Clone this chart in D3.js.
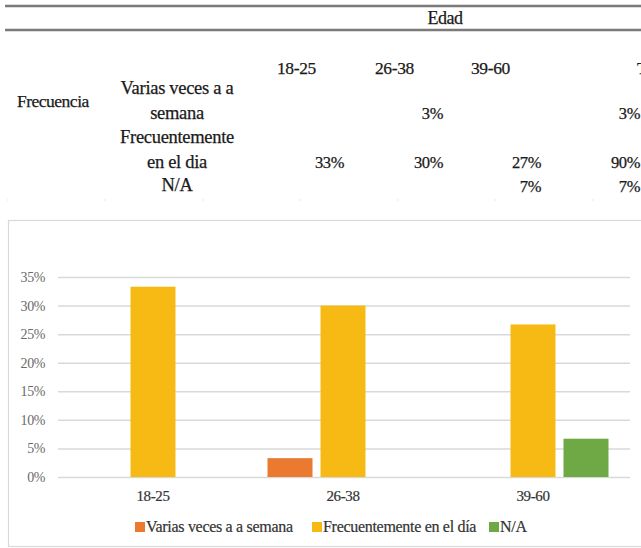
<!DOCTYPE html>
<html>
<head>
<meta charset="utf-8">
<script src="https://cdn.jsdelivr.net/npm/d3@7"></script>
<style>
  html, body { margin: 0; padding: 0; background: #fff; overflow: hidden; }
  svg { display: block; }
</style>
</head>
<body>
<script>
// Age groups and frequency series
const ageGroups = ["18-25", "26-38", "39-60"];
const seriesNames = ["Varias veces a a semana", "Frecuentemente en el día", "N/A"];
const seriesColors = ["#E97A30", "#F7BA14", "#6EA945"];
// Share of respondents per age group (same order as ageGroups)
const variasVeces = [0, 0.033, 0];
const frecuentemente = [0.333, 0.30, 0.267];
const noAplica = [0, 0, 0.067];
const yTicks = [0, 0.05, 0.10, 0.15, 0.20, 0.25, 0.30, 0.35];

// Summary table rows
const tableHeaders = ["18-25", "26-38", "39-60", "Total"];
const tableRowLabels = [["Varias veces a a", "semana"], ["Frecuentemente", "en el dia"], ["N/A"]];
const tableValues = [
  ["", "3%", "", "3%"],
  ["33%", "30%", "27%", "90%"],
  ["", "", "7%", "7%"]
];

const W = 641, H = 548;
const serif = "'Liberation Serif', 'DejaVu Serif', serif";

const svg = d3.select("body").append("svg")
  .attr("width", W).attr("height", H);

// ---------- Table ----------
const tbl = svg.append("g").attr("font-family", serif)
  .attr("fill", "#1a1a1a").attr("stroke", "#1a1a1a").attr("stroke-width", 0.25);

[6, 30].forEach(y => {
  svg.append("line").attr("x1", 5).attr("x2", W).attr("y1", y).attr("y2", y)
    .attr("stroke", "#7a7a7a").attr("stroke-width", 2.6);
});
tbl.append("text").attr("x", 445).attr("y", 24).attr("text-anchor", "middle")
  .attr("font-size", 18).attr("letter-spacing", -0.5).text("Edad");

const colLeft = [277, 375, 471, 637];
const colRight = [344, 443, 541, 640];
tableHeaders.forEach((h, i) => {
  tbl.append("text").attr("x", colLeft[i]).attr("y", 74)
    .attr("font-size", 17.5).attr("letter-spacing", -0.4).text(h);
});

tbl.append("text").attr("x", 17).attr("y", 107)
  .attr("font-size", 17.5).attr("letter-spacing", -0.5).text("Frecuencia");

const labelBase = [[94, 119], [143, 168], [191]];
const valueBase = [119, 168, 192];
tableRowLabels.forEach((lines, r) => {
  lines.forEach((t, k) => {
    tbl.append("text").attr("x", 177).attr("y", labelBase[r][k])
      .attr("text-anchor", "middle").attr("font-size", 18.5)
      .attr("letter-spacing", -0.3).text(t);
  });
  tableValues[r].forEach((v, c) => {
    if (!v) return;
    tbl.append("text").attr("x", colRight[c]).attr("y", valueBase[r])
      .attr("text-anchor", "end").attr("font-size", 16.5)
      .attr("letter-spacing", -0.4).text(v);
  });
});
svg.append("line").attr("x1", 7).attr("x2", W).attr("y1", 200).attr("y2", 200)
  .attr("stroke", "#e0e0e0").attr("stroke-width", 1.2).attr("stroke-dasharray", "1.5,96");

// ---------- Chart ----------
svg.append("rect").attr("x", 8.5).attr("y", 220.5).attr("width", 660).attr("height", 326)
  .attr("fill", "#fff").attr("stroke", "#d9d9d9").attr("stroke-width", 1.2);

const plotTop = 277, plotBottom = 477, plotLeft = 58, plotRight = 630;
const y = d3.scaleLinear().domain([0, 0.35]).range([plotBottom, plotTop]);
const x0 = d3.scaleBand().domain(ageGroups).range([plotLeft, plotRight - 2]).padding(0);
const x1 = d3.scaleBand().domain(seriesNames).range([0, x0.bandwidth()])
  .paddingInner(0.151).paddingOuter(0.368);

const seriesValues = [variasVeces, frecuentemente, noAplica];

// Gridlines and percentage ticks
const yAxis = d3.axisLeft(y).tickValues(yTicks)
  .tickFormat(d3.format(".0%")).tickSize(-(plotRight - plotLeft)).tickPadding(13);
const ga = svg.append("g").attr("transform", `translate(${plotLeft},0)`).call(yAxis);
ga.select(".domain").remove();
ga.selectAll(".tick line").attr("stroke", "#d9d9d9").attr("stroke-width", 1.5);
ga.selectAll(".tick text").attr("fill", "#6a6a6a").attr("font-family", serif)
  .attr("font-size", 14).attr("letter-spacing", -0.4);

// Bars
const groups = svg.append("g").selectAll("g").data(ageGroups).join("g")
  .attr("transform", d => `translate(${x0(d)},0)`);
groups.selectAll("rect")
  .data((d, i) => seriesNames.map((s, k) => ({ s, k, v: seriesValues[k][i] })))
  .join("rect")
  .filter(d => d.v > 0)
  .attr("x", d => x1(d.s))
  .attr("width", x1.bandwidth())
  .attr("y", d => y(d.v))
  .attr("height", d => y(0) - y(d.v))
  .attr("fill", d => seriesColors[d.k]);

// Category axis labels
const xAxis = d3.axisBottom(x0).tickSize(0).tickPadding(13);
const gx = svg.append("g").attr("transform", `translate(0,${plotBottom})`).call(xAxis);
gx.select(".domain").remove();
gx.selectAll(".tick text").attr("fill", "#333").attr("font-family", serif)
  .attr("font-size", 15).attr("letter-spacing", -0.4)
  .attr("stroke", "#333").attr("stroke-width", 0.2);

// Legend
const legendX = [135, 312, 489];
const lg = svg.append("g").selectAll("g").data(seriesNames).join("g")
  .attr("transform", (d, i) => `translate(${legendX[i]},522)`);
lg.append("rect").attr("width", 10).attr("height", 10)
  .attr("fill", (d, i) => seriesColors[i]);
lg.append("text").attr("x", 11).attr("y", 10)
  .attr("font-family", serif).attr("font-size", 16).attr("letter-spacing", -0.3)
  .attr("fill", "#333").attr("stroke", "#333").attr("stroke-width", 0.2).text(d => d);
</script>
</body>
</html>
